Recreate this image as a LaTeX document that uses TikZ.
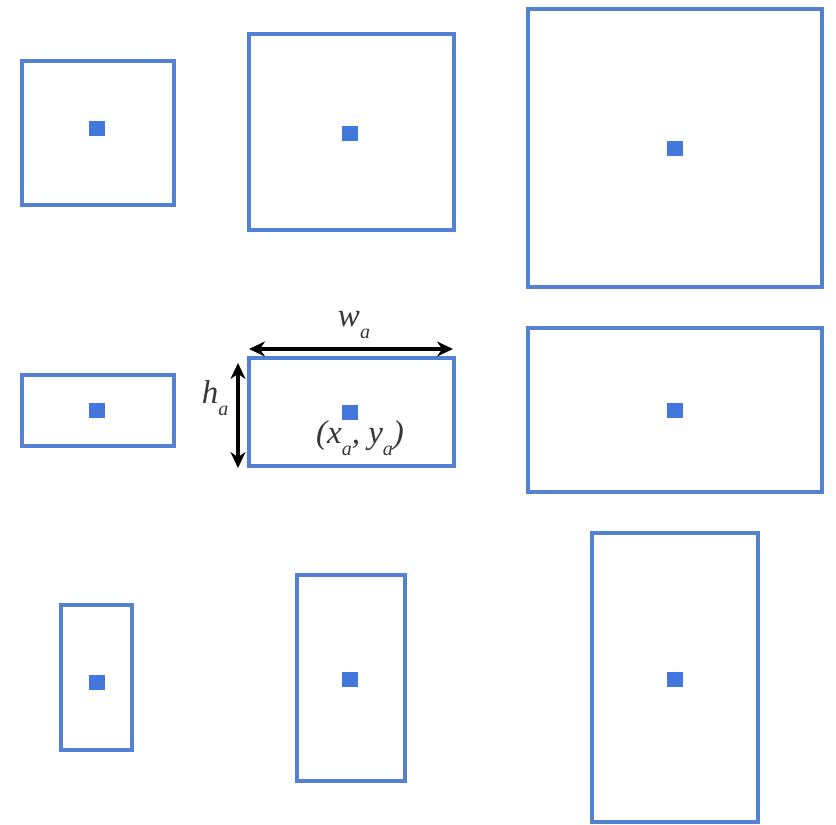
\documentclass[tikz,border=0pt]{standalone}
\usepackage{fontspec}
\setmainfont{Liberation Serif}
\usetikzlibrary{arrows.meta}
\definecolor{boxblue}{RGB}{84,130,210}
\definecolor{dotblue}{RGB}{66,120,222}
\definecolor{txt}{RGB}{55,55,55}
\newcommand{\subA}{\raisebox{-0.38em}{\fontsize{20}{22}\selectfont a}}
\begin{document}
\begin{tikzpicture}[x=1pt,y=-1pt,
  anchorbox/.style={draw=boxblue, line width=3.4pt, fill=white, inner sep=0pt, outer sep=0pt},
  cdot/.style={fill=dotblue, inner sep=0pt, minimum width=16pt, minimum height=15pt},
  dimarrow/.style={line width=3.6pt, black, {Stealth[length=16pt,width=15pt]}-{Stealth[length=16pt,width=15pt]}},
  lbl/.style={text=txt, font=\fontsize{33}{36}\selectfont\itshape}]
\useasboundingbox (0,0) rectangle (836,825);
\fill[white] (0,0) rectangle (836,825);
% row 1
\node[anchorbox, minimum width=152pt, minimum height=144pt] (A) at (98,133) {};
\node[anchorbox, minimum width=205pt, minimum height=196pt] (B) at (351.5,132) {};
\node[anchorbox, minimum width=294pt, minimum height=278pt] (C) at (675,148) {};
% row 2
\node[anchorbox, minimum width=152pt, minimum height=71pt] (D) at (98,410.5) {};
\node[anchorbox, minimum width=205pt, minimum height=108pt] (E) at (351.5,412) {};
\node[anchorbox, minimum width=294pt, minimum height=164pt] (F) at (675,410) {};
% row 3
\node[anchorbox, minimum width=71pt, minimum height=145pt] (G) at (96.5,677.5) {};
\node[anchorbox, minimum width=108pt, minimum height=206pt] (H) at (351,678) {};
\node[anchorbox, minimum width=166pt, minimum height=289pt] (I) at (675,677.5) {};
% centre dots
\node[cdot] (dA) at (97,128) {};
\node[cdot] (dB) at (350,133) {};
\node[cdot] (dC) at (675,148) {};
\node[cdot] (dD) at (97,410) {};
\node[cdot] (dE) at (350,412) {};
\node[cdot] (dF) at (675,410) {};
\node[cdot] (dG) at (97,682) {};
\node[cdot] (dH) at (350,679) {};
\node[cdot] (dI) at (675,679) {};
% dimension arrows
\coordinate (wl) at (249,349);
\coordinate (wr) at (453,349);
\coordinate (ht) at (238,363);
\coordinate (hb) at (238,468);
\draw[dimarrow] (wl) -- (wr);
\draw[dimarrow] (ht) -- (hb);
% labels
\node[lbl] (lw) at (354,325) {w\subA};
\node[lbl] (lh) at (215,398) {h\subA};
\node[lbl] (lxy) at (360,438) {(x\subA, y\subA)};
\end{tikzpicture}
\end{document}
